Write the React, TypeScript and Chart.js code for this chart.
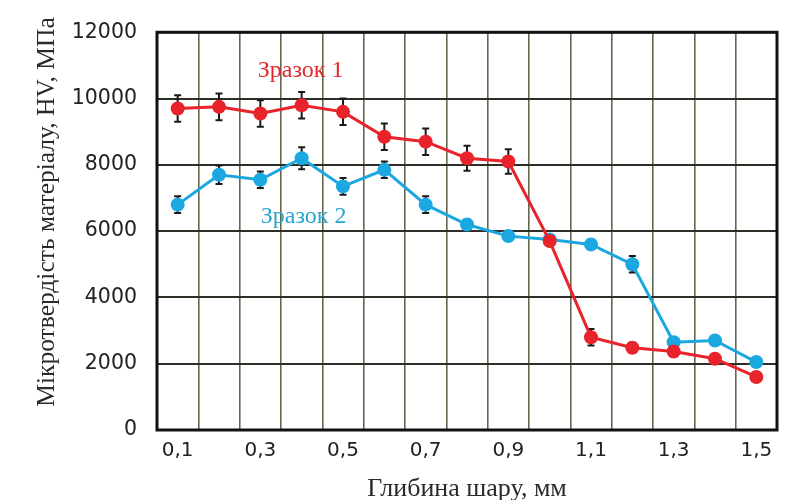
import React, { useEffect, useRef } from "react";
import { Chart, registerables } from "chart.js";

Chart.register(...registerables);

const depthLabels = ["0,1", "0,2", "0,3", "0,4", "0,5", "0,6", "0,7", "0,8", "0,9", "1,0", "1,1", "1,2", "1,3", "1,4", "1,5"];
const sample1 = [9700, 9750, 9550, 9800, 9600, 8850, 8700, 8200, 8100, 5700, 2800, 2480, 2370, 2150, 1600];
const sample1Err = [400, 400, 400, 400, 400, 400, 400, 380, 370, 150, 250, 150, 150, 100, 0];
const sample2 = [6800, 7700, 7550, 8200, 7350, 7850, 6800, 6200, 5850, 5750, 5600, 5000, 2650, 2700, 2050];
const sample2Err = [250, 280, 250, 330, 250, 250, 250, 150, 150, 100, 150, 250, 100, 100, 100];
const yTicks = [0, 2000, 4000, 6000, 8000, 10000, 12000];

const RED = "#e8232b";
const BLUE = "#1ba8e0";

const errorBars = {
  id: "errorBars",
  beforeDatasetDraw(chart: any, args: any) {
    const ds = chart.data.datasets[args.index] as any;
    const errs: number[] = ds.errors || [];
    const y = chart.scales.y;
    const ctx = chart.ctx;
    ctx.save();
    ctx.strokeStyle = "#1a1a1a";
    ctx.lineWidth = 2;
    args.meta.data.forEach((pt: any, i: number) => {
      const e = errs[i];
      if (!e) return;
      const v = ds.data[i];
      const top = y.getPixelForValue(v + e);
      const bot = y.getPixelForValue(v - e);
      ctx.beginPath();
      ctx.moveTo(pt.x, top);
      ctx.lineTo(pt.x, bot);
      ctx.moveTo(pt.x - 3.5, top);
      ctx.lineTo(pt.x + 3.5, top);
      ctx.moveTo(pt.x - 3.5, bot);
      ctx.lineTo(pt.x + 3.5, bot);
      ctx.stroke();
    });
    ctx.restore();
  },
};

const frameAndText = {
  id: "frameAndText",
  afterDraw(chart: any) {
    const { ctx, chartArea } = chart;
    ctx.save();
    ctx.strokeStyle = "#111";
    ctx.lineWidth = 3;
    ctx.strokeRect(chartArea.left, chartArea.top, chartArea.right - chartArea.left, chartArea.bottom - chartArea.top);
    // y axis title
    ctx.translate(47, 212);
    ctx.rotate(-Math.PI / 2);
    ctx.font = "25.5px 'Liberation Serif'";
    ctx.fillStyle = "#2a2a2a";
    ctx.textAlign = "center";
    ctx.textBaseline = "middle";
    ctx.fillText("Мікротвердість матеріалу, HV, МПа", 0, 0);
    ctx.restore();

    const x = chart.scales.x;
    const y = chart.scales.y;
    ctx.save();
    ctx.font = "24px 'Liberation Serif'";
    ctx.textAlign = "center";
    ctx.textBaseline = "middle";
    ctx.fillStyle = "#e0282e";
    ctx.fillText("Зразок 1", (x.getPixelForValue(2) + x.getPixelForValue(4)) / 2 - 1, y.getPixelForValue(10850));
    ctx.fillStyle = "#2aa5cf";
    ctx.fillText("Зразок 2", (x.getPixelForValue(2) + x.getPixelForValue(4)) / 2 + 2, y.getPixelForValue(6450));
    ctx.restore();
  },
};

export default function App() {
  const ref = useRef<HTMLCanvasElement>(null);
  useEffect(() => {
    if (!ref.current) return;
    const chart = new Chart(ref.current, {
      type: "line",
      data: {
        labels: depthLabels,
        datasets: [
          {
            label: "Зразок 1",
            data: sample1,
            errors: sample1Err,
            borderColor: RED,
            backgroundColor: RED,
            pointBackgroundColor: RED,
            pointBorderColor: RED,
            borderWidth: 3,
            pointRadius: 7,
            pointBorderWidth: 0,
            tension: 0,
          } as any,
          {
            label: "Зразок 2",
            data: sample2,
            errors: sample2Err,
            borderColor: BLUE,
            backgroundColor: BLUE,
            pointBackgroundColor: BLUE,
            pointBorderColor: BLUE,
            borderWidth: 3,
            pointRadius: 7,
            pointBorderWidth: 0,
            tension: 0,
          } as any,
        ],
      },
      options: {
        responsive: false,
        animation: false,
        devicePixelRatio: 1,
        layout: { padding: { top: 22, right: 26, left: 0, bottom: 0 } },
        plugins: { legend: { display: false }, tooltip: { enabled: false } },
        scales: {
          x: {
            type: "category",
            offset: true,
            grid: { offset: true, color: "#66664f", lineWidth: 1.6, drawTicks: false },
            border: { display: false },
            ticks: {
              autoSkip: false,
              maxRotation: 0,
              padding: 9,
              color: "#222",
              font: { family: "'DejaVu Sans'", size: 20 },
              callback: (_v: any, i: number) => (i % 2 === 0 ? depthLabels[i] : ""),
            },
            title: {
              display: true,
              text: "Глибина шару, мм",
              color: "#2a2a2a",
              font: { family: "'Liberation Serif'", size: 26, lineHeight: 0.85 },
              padding: { top: 0, bottom: 0 },
            },
            afterFit: (s: any) => {
              s.height = 70;
            },
          },
          y: {
            min: 0,
            max: 12000,
            afterBuildTicks: (s: any) => {
              s.ticks = yTicks.map((v) => ({ value: v }));
            },
            grid: { color: "#2e2e26", lineWidth: 2, drawTicks: false },
            border: { display: false },
            ticks: {
              padding: 20,
              color: "#222",
              font: { family: "'DejaVu Sans'", size: 20.5 },
              callback: (v: any) => String(v),
            },
            afterFit: (s: any) => {
              s.width = 157;
            },
          },
        },
      },
      plugins: [errorBars, frameAndText],
    } as any);
    return () => chart.destroy();
  }, []);
  return (
    <div style={{ position: "absolute", left: 0, top: 0, width: 803, height: 500, background: "#fff" }}>
      <canvas ref={ref} width={803} height={500} style={{ display: "block", width: 803, height: 500 }} />
    </div>
  );
}
